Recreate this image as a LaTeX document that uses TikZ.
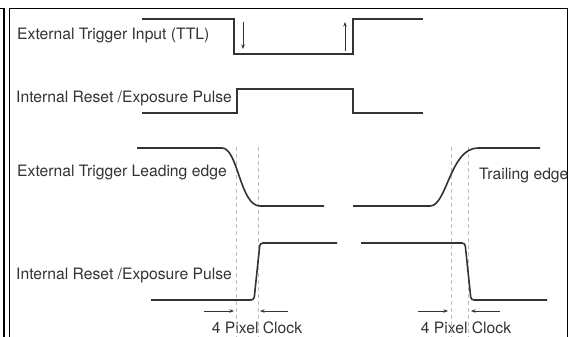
\documentclass[tikz,border=0pt]{standalone}
\usepackage{fontspec}
\setmainfont{TeX Gyre Heros}
\usetikzlibrary{arrows.meta}
\definecolor{Wave}{HTML}{333333}
\definecolor{Guide}{HTML}{BDBDBD}

\begin{document}
\begin{tikzpicture}[x=1pt,y=-1pt,
  wave/.style={Wave,line width=1.6pt},
  guide/.style={Guide,line width=0.9pt,dash pattern=on 4pt off 3pt},
  pointer/.style={Wave,line width=0.7pt,-{Stealth[length=4.5pt,width=3.5pt]}},
  lbl/.style={anchor=west,text=Wave,inner sep=0pt,font=\fontsize{15.7}{18}\selectfont}]
\useasboundingbox (0,0) rectangle (574,337);
% frame
\draw[line width=1.2pt] (0,8.5) -| (4,337);
\draw[line width=1.7pt] (9.5,337) |- (567.5,8.5) -- (567.5,337);
% labels
\node[lbl] (ttl) at (17,35) {External Trigger Input (TTL)};
\node[lbl] (rst) at (16,98) {Internal Reset /Exposure Pulse};
\node[lbl] (lead) at (17,172) {External Trigger Leading edge};
\node[lbl] (rstb) at (16,275) {Internal Reset /Exposure Pulse};
\node[lbl] (trail) at (479,175) {Trailing edge};
\node[lbl,anchor=center] (clkl) at (257,328) {4 Pixel Clock};
\node[lbl,anchor=center] (clkr) at (466,328) {4 Pixel Clock};
% upper waveforms
\draw[wave] (142,19) -- (234,19) -- (234,54) -- (353,54) -- (353,19) -- (423,19);
\draw[wave] (142,113) -- (237,113) -- (237,89) -- (353,89) -- (353,113) -- (423,113);
\draw[pointer] (243,22) -- (243,49);
\draw[pointer] (345,51) -- (345,22);
% guides
\foreach \gx in {236,258,451,468}
  \draw[guide] (\gx,147) -- (\gx,337);
% edges
\draw[wave] (137,148) -- (222,148) .. controls (238,148) and (240,206) .. (260,206) -- (324,206);
\draw[wave] (353,206) -- (430,206) .. controls (447,206) and (450,148) .. (478,148) -- (540,148);
\draw[wave,rounded corners=3pt] (151,300) -- (254,300) -- (260,243) -- (337,243);
\draw[wave,rounded corners=3pt] (361,243) -- (465,243) -- (471,300) -- (547,300);
% clock marks
\coordinate (la) at (204,311); \coordinate (lb) at (234,311);
\coordinate (lc) at (288,311); \coordinate (ld) at (260,311);
\coordinate (ra) at (418,311); \coordinate (rb) at (448,311);
\coordinate (rc) at (500,311); \coordinate (rd) at (471,311);
\draw[pointer] (la) -- (lb);
\draw[pointer] (lc) -- (ld);
\draw[pointer] (ra) -- (rb);
\draw[pointer] (rc) -- (rd);
\end{tikzpicture}
\end{document}
